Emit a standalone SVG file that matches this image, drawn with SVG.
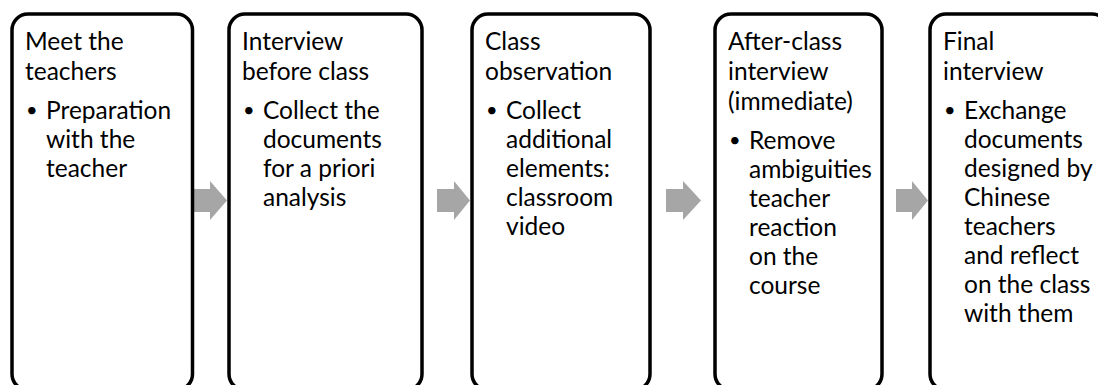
<svg xmlns="http://www.w3.org/2000/svg" width="1098" height="385" viewBox="0 0 1098 385">
<style>
.box{fill:#fff;stroke:#000;stroke-width:3.5}
.arr{fill:#a6a6a6}
text{font-family:Lato,"Open Sans","DejaVu Sans",sans-serif;font-size:24.5px;fill:#000}
.b{font-size:20px}
</style>
<rect width="1098" height="385" fill="#fff"/>
<g id="connectors">
<polygon class="arr" points="192,189 210,189 210,181 227,200.5 210,220 210,212 192,212"/>
<polygon class="arr" points="437,189 454,189 454,181 470,200.5 454,220 454,212 437,212"/>
<polygon class="arr" points="666,189 683,189 683,181 701,200.5 683,220 683,212 666,212"/>
<polygon class="arr" points="896,189 912,189 912,181 928,200.5 912,220 912,212 896,212"/>
</g>
<g id="node1">
<rect class="box" x="12" y="14" width="180.5" height="376" rx="16"/>
<text x="25" y="50">Meet the</text>
<text x="25" y="80">teachers</text>
<text class="b" x="26" y="117">•</text>
<text x="46" y="119">Preparation</text>
<text x="46" y="148">with the</text>
<text x="46" y="177">teacher</text>
</g>
<g id="node2">
<rect class="box" x="229" y="14" width="193" height="376" rx="16"/>
<text x="242" y="50">Interview</text>
<text x="242" y="80">before class</text>
<text class="b" x="243" y="117">•</text>
<text x="263" y="119">Collect the</text>
<text x="263" y="148">documents</text>
<text x="263" y="177">for a priori</text>
<text x="263" y="206">analysis</text>
</g>
<g id="node3">
<rect class="box" x="472" y="14" width="178" height="376" rx="16"/>
<text x="485" y="50">Class</text>
<text x="485" y="80">observation</text>
<text class="b" x="486" y="117">•</text>
<text x="506" y="119">Collect</text>
<text x="506" y="148">additional</text>
<text x="506" y="177">elements:</text>
<text x="506" y="206">classroom</text>
<text x="506" y="235">video</text>
</g>
<g id="node4">
<rect class="box" x="715" y="14" width="167" height="376" rx="16"/>
<text x="728" y="50">After-class</text>
<text x="728" y="80">interview</text>
<text x="728" y="110">(immediate)</text>
<text class="b" x="729" y="147">•</text>
<text x="749" y="149">Remove</text>
<text x="749" y="178">ambiguities</text>
<text x="749" y="207">teacher</text>
<text x="749" y="236">reaction</text>
<text x="749" y="265">on the</text>
<text x="749" y="294">course</text>
</g>
<g id="node5">
<rect class="box" x="930" y="14" width="178" height="376" rx="16"/>
<text x="943" y="50">Final</text>
<text x="943" y="80">interview</text>
<text class="b" x="944" y="117">•</text>
<text x="964" y="119">Exchange</text>
<text x="964" y="148">documents</text>
<text x="964" y="177">designed by</text>
<text x="964" y="206">Chinese</text>
<text x="964" y="235">teachers</text>
<text x="964" y="264">and reflect</text>
<text x="964" y="293">on the class</text>
<text x="964" y="322">with them</text>
</g>
</svg>
